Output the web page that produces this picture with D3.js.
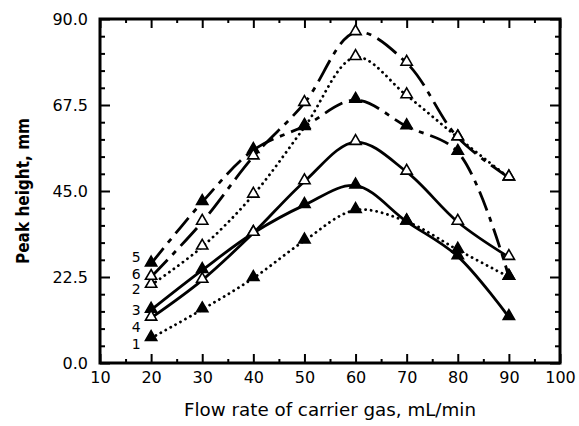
<!DOCTYPE html>
<html>
<head>
<meta charset="utf-8">
<script src="https://cdn.jsdelivr.net/npm/d3@7"></script>
<style>
body { margin: 0; background: #fff; }
text { font-family: "DejaVu Sans", Verdana, sans-serif; fill: #000; }
.axis path.domain { display: none; }
.axis line { stroke: #000; stroke-width: 2; }
.frame { fill: none; stroke: #000; stroke-width: 3; }
.curve { fill: none; stroke: #000; stroke-width: 2.8; }
</style>
</head>
<body>
<svg id="chart" width="579" height="426"></svg>
<script>
// flow rate of carrier gas (mL/min)
const flowRates = [20, 30, 40, 50, 60, 70, 80, 90];

// peak heights (mm), one array per curve
const peak1 = [6.5, 14, 22.2, 32, 40, 37, 29.6, 22.5];
const peak2 = [20.4, 30.4, 44, 61.7, 80, 70, 59, 48.5];
const peak3 = [13.9, 24.3, 34, 41.3, 46.4, 37, 27.9, 12];
const peak4 = [11.8, 21.7, 34, 47.5, 57.8, 50, 36.9, 27.7];
const peak5 = [26, 42.1, 55.7, 62, 68.8, 61.9, 55.2, 22.5];
const peak6 = [22.5, 36.9, 54, 68, 86.5, 78.5, 59, 48.5];

const curveNames = ['1', '2', '3', '4', '5', '6'];
// where the curve numbers sit at the left end (mm)
const labelHeights = [4.9, 19.3, 13.8, 9.3, 27.8, 23.3];

const xTicks = [10, 20, 30, 40, 50, 60, 70, 80, 90, 100];
const xMinor = [15, 25, 35, 45, 55, 65, 75, 85, 95];
const yTicks = [0, 22.5, 45, 67.5, 90];
const yMinor = [4.5, 9, 13.5, 18, 27, 31.5, 36, 40.5, 49.5, 54, 58.5, 63, 72, 76.5, 81, 85.5];

const margin = {top: 19, right: 19, bottom: 63, left: 100};
const width = 579 - margin.left - margin.right;
const height = 426 - margin.top - margin.bottom;

const styles = [
    {filled: true,  dash: '0.1 5.5'},
    {filled: false, dash: '0.1 5.5'},
    {filled: true,  dash: null},
    {filled: false, dash: null},
    {filled: true,  dash: '20 7 5 7'},
    {filled: false, dash: '24 7 5 7'}
];
const allPeaks = [peak1, peak2, peak3, peak4, peak5, peak6];

const svg = d3.select('#chart');
const chart = svg.append('g').attr('transform', `translate(${margin.left},${margin.top})`);

const x = d3.scaleLinear().domain([10, 100]).range([0, width]);
const y = d3.scaleLinear().domain([0, 90]).range([height, 0]);

// axes, ticks pointing inwards on all four sides
chart.append('g').attr('class', 'axis').attr('transform', `translate(0,${height})`)
    .call(d3.axisBottom(x).tickValues(xTicks).tickSize(-9).tickSizeOuter(0).tickPadding(9))
    .selectAll('text').style('font-size', '16px');
chart.append('g').attr('class', 'axis').attr('transform', `translate(0,${height})`)
    .call(d3.axisBottom(x).tickValues(xMinor).tickSize(-4).tickSizeOuter(0).tickFormat(''));
chart.append('g').attr('class', 'axis')
    .call(d3.axisTop(x).tickValues(xTicks).tickSize(-9).tickSizeOuter(0).tickFormat(''));
chart.append('g').attr('class', 'axis')
    .call(d3.axisTop(x).tickValues(xMinor).tickSize(-4).tickSizeOuter(0).tickFormat(''));

chart.append('g').attr('class', 'axis')
    .call(d3.axisLeft(y).tickValues(yTicks).tickSize(-10).tickSizeOuter(0).tickPadding(12).tickFormat(d3.format('.1f')))
    .selectAll('text').style('font-size', '16px');
chart.append('g').attr('class', 'axis')
    .call(d3.axisLeft(y).tickValues(yMinor).tickSize(-5).tickSizeOuter(0).tickFormat(''));
chart.append('g').attr('class', 'axis').attr('transform', `translate(${width},0)`)
    .call(d3.axisRight(y).tickValues(yTicks).tickSize(-10).tickSizeOuter(0).tickFormat(''));
chart.append('g').attr('class', 'axis').attr('transform', `translate(${width},0)`)
    .call(d3.axisRight(y).tickValues(yMinor).tickSize(-5).tickSizeOuter(0).tickFormat(''));

chart.append('rect').attr('class', 'frame').attr('width', width).attr('height', height);

// titles
chart.append('text')
    .attr('x', width / 2).attr('y', height + 53)
    .attr('text-anchor', 'middle').style('font-size', '17px')
    .attr('textLength', 292).attr('lengthAdjust', 'spacingAndGlyphs')
    .text('Flow rate of carrier gas, mL/min');
chart.append('text')
    .attr('transform', `translate(${-71},${height / 2}) rotate(-90)`)
    .attr('text-anchor', 'middle').style('font-size', '17px').style('font-weight', 'bold')
    .attr('textLength', 146).attr('lengthAdjust', 'spacingAndGlyphs')
    .text('Peak height, mm');

// curves
const line = d3.line()
    .x((d, i) => x(flowRates[i]))
    .y(d => y(d))
    .curve(d3.curveCatmullRom.alpha(0.5));

const curves = chart.append('g').attr('class', 'curves');
allPeaks.forEach(function(vals, k) {
    let dotted = styles[k].dash && styles[k].dash.startsWith('0.1');
    curves.append('path')
        .datum(vals)
        .attr('class', 'curve')
        .attr('stroke-dasharray', styles[k].dash)
        .attr('stroke-linecap', dotted ? 'round' : 'butt')
        .attr('stroke-width', dotted ? 3.2 : 2.9)
        .attr('d', line);
});

// markers
const tri = d3.symbol().type(d3.symbolTriangle).size(55);
allPeaks.forEach(function(vals, k) {
    chart.append('g').selectAll('path')
        .data(vals)
        .enter()
        .append('path')
            .attr('d', tri)
            .attr('transform', (d, i) => `translate(${x(flowRates[i])},${y(d) - 1})`)
            .attr('fill', styles[k].filled ? '#000' : '#fff')
            .attr('stroke', '#000')
            .attr('stroke-width', 1.6);
});

// curve numbers
chart.append('g').selectAll('text')
    .data(curveNames)
    .enter()
    .append('text')
        .attr('x', x(20) - 15)
        .attr('y', (d, i) => y(labelHeights[i]))
        .attr('dy', '0.36em')
        .attr('text-anchor', 'middle')
        .style('font-size', '14px')
        .text(d => d);
</script>
</body>
</html>
